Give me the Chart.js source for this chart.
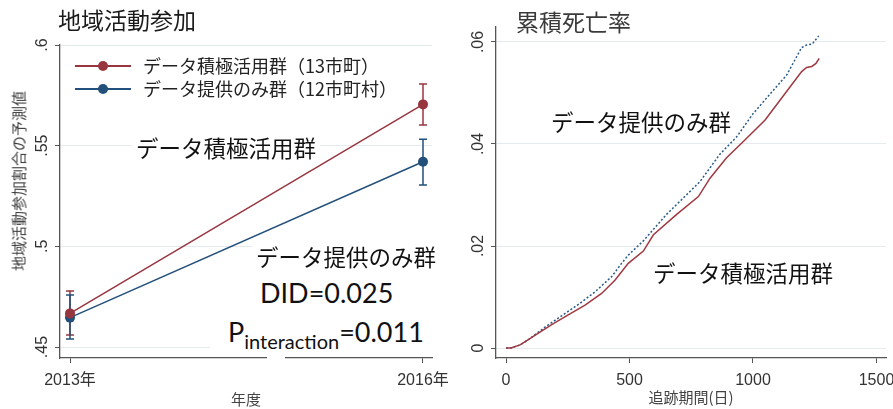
<!DOCTYPE html>
<html><head><meta charset="utf-8">
<script src="https://cdn.jsdelivr.net/npm/chart.js@4.4.1/dist/chart.umd.min.js"></script>
<style>
html,body{margin:0;padding:0;background:#fff;width:893px;height:409px;overflow:hidden;position:relative;}
.cv{position:absolute;top:0;}
.t{position:absolute;white-space:nowrap;line-height:1;font-family:"Noto Sans CJK JP",sans-serif;color:#111;}
.num{font-family:Lato,"Liberation Sans",sans-serif;color:#111;}
</style></head><body>
<div class="cv" style="left:0;width:470px;height:409px"><canvas id="c1" width="470" height="409"></canvas></div>
<div class="cv" style="left:446px;width:480px;height:409px"><canvas id="c2" width="480" height="409"></canvas></div>

<div class="t" style="left:58px;top:8px;font-size:23px;color:#1a1a1a">地域活動参加</div>
<div class="t" style="left:516px;top:10px;font-size:23px;color:#3a3a3a">累積死亡率</div>
<div class="t" style="left:18px;top:181px;font-size:15px;color:#404040;transform:translate(-50%,-50%) rotate(-90deg)">地域活動参加割合の予測値</div>

<div class="t" style="left:132px;top:134px;font-size:22.5px;background:#fff;padding:2px 4px">データ積極活用群</div>
<div class="t" style="left:252px;top:243px;font-size:22.5px;background:#fff;padding:2px 4px">データ提供のみ群</div>
<div style="position:absolute;left:210px;top:272px;width:222px;height:84px;background:#fff"></div>
<div style="position:absolute;left:267px;top:355px;width:18px;height:6px;background:#fff"></div>
<div class="t num" style="left:260px;top:279px;font-size:27px">DID=0.025</div>
<div class="t num" style="left:228px;top:318px;font-size:27px">P<span style="font-size:20px;position:relative;top:7px">interaction</span>=0.011</div>

<div class="t" style="left:551px;top:110px;font-size:22.5px">データ提供のみ群</div>
<div class="t" style="left:653px;top:261px;font-size:22.5px">データ積極活用群</div>
<div id="legend"></div>

<script>
// ---- Left panel data: 地域活動参加割合の予測値 ----
const years = [2013, 2016];
const yearTicks = [2013, 2016];
const leftYTicks = [0.45, 0.50, 0.55, 0.60];
const activeName = 'データ積極活用群（13市町）';
const provideName = 'データ提供のみ群（12市町村）';
const activeMean = [0.4667, 0.5705];
const activeLow  = [0.4560, 0.5603];
const activeHigh = [0.4778, 0.5806];
const provideMean = [0.4646, 0.5420];
const provideLow  = [0.4540, 0.5305];
const provideHigh = [0.4758, 0.5532];

// ---- Right panel data: 累積死亡率 ----
const activeDays = [0, 20, 57, 117, 185, 252, 320, 387, 441, 495, 556, 597, 691, 779, 826, 893, 961, 1049, 1136, 1197, 1217, 1238, 1255, 1268];
const activeCum  = [0, 0, 0.0006, 0.0025, 0.0046, 0.0065, 0.0084, 0.0107, 0.0133, 0.0166, 0.0190, 0.0222, 0.0262, 0.0297, 0.0333, 0.0373, 0.0405, 0.0447, 0.0503, 0.0542, 0.0550, 0.0552, 0.0558, 0.0568];
const provideDays = [0, 20, 57, 90, 158, 225, 295, 360, 428, 468, 495, 556, 650, 785, 866, 934, 1001, 1136, 1197, 1217, 1240, 1266];
const provideCum  = [0, 0, 0.0006, 0.0016, 0.0041, 0.0063, 0.0086, 0.0110, 0.0140, 0.0166, 0.0182, 0.0210, 0.0262, 0.0326, 0.0380, 0.0414, 0.0460, 0.0535, 0.0589, 0.0594, 0.0596, 0.0612];
const rightXTicks = [0, 500, 1000, 1500];
const rightYTicks = [0, 0.02, 0.04, 0.06];

const RED = '#98363f', BLUE = '#23507a';
const tickFont = {family: "'Liberation Sans','Noto Sans CJK JP',sans-serif", size: 16};
const titleFont = {family: "'Noto Sans CJK JP',sans-serif", size: 15};
const fmt = v => v === 0 ? '0' : String(+v.toFixed(4)).replace(/^0/, '');

// legend (HTML, built from series names/colours)
const lg = document.getElementById('legend');
[[activeName, RED, 66], [provideName, BLUE, 89]].forEach(([name, col, cy]) => {
  lg.insertAdjacentHTML('beforeend',
    `<div style="position:absolute;left:75px;top:${cy-0.75}px;width:56px;height:1.5px;background:${col}"></div>` +
    `<div style="position:absolute;left:98px;top:${cy-5}px;width:10px;height:10px;border-radius:50%;background:${col}"></div>` +
    `<div class="t" style="left:143px;top:${cy-10}px;font-size:18px;color:#222">${name}</div>`);
});

const errorBars = {
  id: 'errorBars',
  beforeDatasetsDraw(chart) {
    const {ctx, scales: {x, y}} = chart;
    chart.data.datasets.forEach(ds => {
      if (!ds.errLow) return;
      ctx.save();
      ctx.strokeStyle = ds.borderColor; ctx.lineWidth = 1.5;
      ds.data.forEach((p, i) => {
        const px = x.getPixelForValue(p.x);
        const lo = y.getPixelForValue(ds.errLow[i]);
        const hi = y.getPixelForValue(ds.errHigh[i]);
        ctx.beginPath();
        ctx.moveTo(px, lo); ctx.lineTo(px, hi);
        ctx.moveTo(px - 4, lo); ctx.lineTo(px + 4, lo);
        ctx.moveTo(px - 4, hi); ctx.lineTo(px + 4, hi);
        ctx.stroke();
      });
      ctx.restore();
    });
  }
};

function axisCommon(extra) {
  return Object.assign({
    type: 'linear',
    border: {color: '#555', width: 1.3},
  }, extra);
}

new Chart(document.getElementById('c1'), {
  type: 'line',
  data: {
    datasets: [
      {label: activeName, data: years.map((x, i) => ({x, y: activeMean[i]})), errLow: activeLow, errHigh: activeHigh,
       borderColor: RED, backgroundColor: RED, borderWidth: 1.5, pointRadius: 5, pointBorderWidth: 0, pointBackgroundColor: RED},
      {label: provideName, data: years.map((x, i) => ({x, y: provideMean[i]})), errLow: provideLow, errHigh: provideHigh,
       borderColor: BLUE, backgroundColor: BLUE, borderWidth: 1.5, pointRadius: 5, pointBorderWidth: 0, pointBackgroundColor: BLUE}
    ]
  },
  options: {
    responsive: false, animation: false, devicePixelRatio: 1,
    layout: {padding: {left: 0, top: 45, right: 38, bottom: 0}},
    plugins: {legend: {display: false}, tooltip: {enabled: false}},
    scales: {
      x: axisCommon({
        min: 2012.915, max: 2016.0765,
        afterBuildTicks: s => { s.ticks = yearTicks.map(v => ({value: v})); },
        afterFit: s => { s.height = 51; },
        grid: {drawOnChartArea: false, drawTicks: true, tickLength: 5, tickColor: '#555'},
        ticks: {font: tickFont, color: '#333', padding: 8, maxRotation: 0, autoSkip: false, callback: v => v + '年'},
        title: {display: true, text: '年度', font: titleFont, color: '#444', padding: {top: 0, bottom: 1}}
      }),
      y: axisCommon({
        min: 0.44454, max: 0.6,
        afterBuildTicks: s => { s.ticks = leftYTicks.map(v => ({value: v})); },
        afterFit: s => { s.width = 60; },
        grid: {color: '#e3ebee', lineWidth: 1, drawTicks: true, tickLength: 5, tickColor: '#555'},
        ticks: {font: tickFont, color: '#333', padding: 1, minRotation: 90, maxRotation: 90, crossAlign: 'center', autoSkip: false, callback: fmt}
      })
    }
  },
  plugins: [errorBars]
});

new Chart(document.getElementById('c2'), {
  type: 'line',
  data: {
    datasets: [
      {label: 'データ積極活用群', data: activeDays.map((x, i) => ({x, y: activeCum[i]})),
       borderColor: '#a03840', borderWidth: 1.5, pointRadius: 0, tension: 0},
      {label: 'データ提供のみ群', data: provideDays.map((x, i) => ({x, y: provideCum[i]})),
       borderColor: '#2a5a88', borderWidth: 1.5, borderDash: [2, 2], pointRadius: 0, tension: 0}
    ]
  },
  options: {
    responsive: false, animation: false, devicePixelRatio: 1,
    layout: {padding: {left: 0, top: 27, right: 40, bottom: 0}},
    plugins: {legend: {display: false}, tooltip: {enabled: false}},
    scales: {
      x: axisCommon({
        min: -40.5, max: 1538.5,
        afterBuildTicks: s => { s.ticks = rightXTicks.map(v => ({value: v})); },
        afterFit: s => { s.height = 51; },
        grid: {drawOnChartArea: false, drawTicks: true, tickLength: 5, tickColor: '#555'},
        ticks: {font: tickFont, color: '#333', padding: 8, maxRotation: 0, autoSkip: false, callback: v => String(v)},
        title: {display: true, text: '追跡期間(日)', font: titleFont, color: '#444', padding: {top: 0, bottom: 3}}
      }),
      y: axisCommon({
        min: -0.00196, max: 0.06294,
        afterBuildTicks: s => { s.ticks = rightYTicks.map(v => ({value: v})); },
        afterFit: s => { s.width = 50; },
        grid: {color: '#e3ebee', lineWidth: 1, drawTicks: true, tickLength: 5, tickColor: '#555'},
        ticks: {font: tickFont, color: '#333', padding: 1, minRotation: 90, maxRotation: 90, crossAlign: 'center', autoSkip: false, callback: fmt}
      })
    }
  }
});
</script>
</body></html>
